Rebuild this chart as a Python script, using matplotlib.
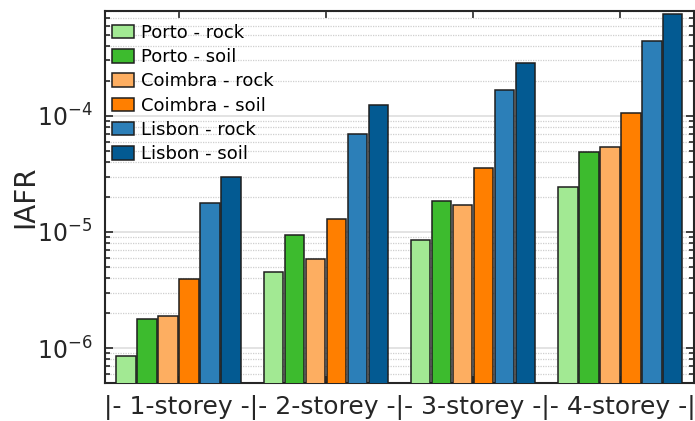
import numpy as np
import matplotlib
matplotlib.use("Agg")
import matplotlib.pyplot as plt
from matplotlib.ticker import LogLocator, NullFormatter

# Annual frequency of failure per building height, city and site class
storeys = ["1-storey", "2-storey", "3-storey", "4-storey"]
series_names = ["Porto - rock", "Porto - soil", "Coimbra - rock",
                "Coimbra - soil", "Lisbon - rock", "Lisbon - soil"]

porto_rock = [8.5e-7, 4.5e-6, 8.6e-6, 2.42e-5]
porto_soil = [1.77e-6, 9.5e-6, 1.83e-5, 4.85e-5]
coimbra_rock = [1.87e-6, 5.8e-6, 1.69e-5, 5.35e-5]
coimbra_soil = [3.9e-6, 1.3e-5, 3.56e-5, 1.06e-4]
lisbon_rock = [1.76e-5, 7.0e-5, 1.67e-4, 4.4e-4]
lisbon_soil = [3.0e-5, 1.25e-4, 2.88e-4, 7.48e-4]

series_values = [porto_rock, porto_soil, coimbra_rock,
                 coimbra_soil, lisbon_rock, lisbon_soil]
colors = ["#a2e993", "#3dbb2e", "#fdae61", "#ff7f00", "#2c7fb8", "#035a92"]

plt.rcParams["font.family"] = ["DejaVu Sans"]
text_color = "#262626"

fig = plt.figure(figsize=(6.95, 4.21), dpi=100)
ax = fig.add_axes([0.151, 0.0903, 0.8475, 0.8835])

x = np.arange(1, len(storeys) + 1)
pitch = 0.1424
width = 0.132
n = len(series_values)
for i, (vals, name, c) in enumerate(zip(series_values, series_names, colors)):
    ax.bar(x + (i - (n - 1) / 2) * pitch, vals, width=width, color=c,
           edgecolor="#1e1e1e", linewidth=1.1, label=name, zorder=3)

ax.set_yscale("log")
ax.set_ylim(5e-7, 8e-4)
ax.set_xlim(0.5, 4.5)

ax.yaxis.set_major_locator(LogLocator(base=10, numticks=10))
ax.yaxis.set_minor_locator(LogLocator(base=10, subs=np.arange(2, 10), numticks=20))
ax.yaxis.set_minor_formatter(NullFormatter())

# group ticks carry no text; the group names run along one bracketed label
ax.set_xticks(x)
ax.set_xticklabels([])
group_label = "|" + "|".join(f"- {s} -" for s in storeys) + "|"
ax.set_xlabel(group_label, fontsize=18, color=text_color, labelpad=5)

ax.tick_params(axis="y", labelsize=17, labelcolor=text_color, pad=9)
ax.tick_params(which="both", direction="in", top=True, right=True,
               color=text_color, width=1.2)
ax.tick_params(which="major", length=6)
ax.tick_params(which="minor", length=3.5)
ax.tick_params(axis="x", which="major", length=5)

ax.grid(True, axis="y", which="major", color="#dedede", linewidth=1.2,
        linestyle="-", zorder=0)
ax.grid(True, axis="y", which="minor", color="#cfcfcf", linewidth=0.9,
        linestyle=(0, (1, 1)), zorder=0)
ax.set_axisbelow(True)

for s in ax.spines.values():
    s.set_linewidth(1.5)
    s.set_color(text_color)

ax.set_ylabel("IAFR", fontsize=20, color=text_color)
ax.yaxis.set_label_coords(-0.112, 0.5)

leg = ax.legend(loc="upper left", bbox_to_anchor=(0.0119, 0.966),
                fontsize=13, frameon=False,
                handlelength=1.2, handleheight=0.78, handletextpad=0.4,
                labelspacing=0.35, borderaxespad=0.0, borderpad=0.0)

fig.savefig("out.png", dpi=100)
